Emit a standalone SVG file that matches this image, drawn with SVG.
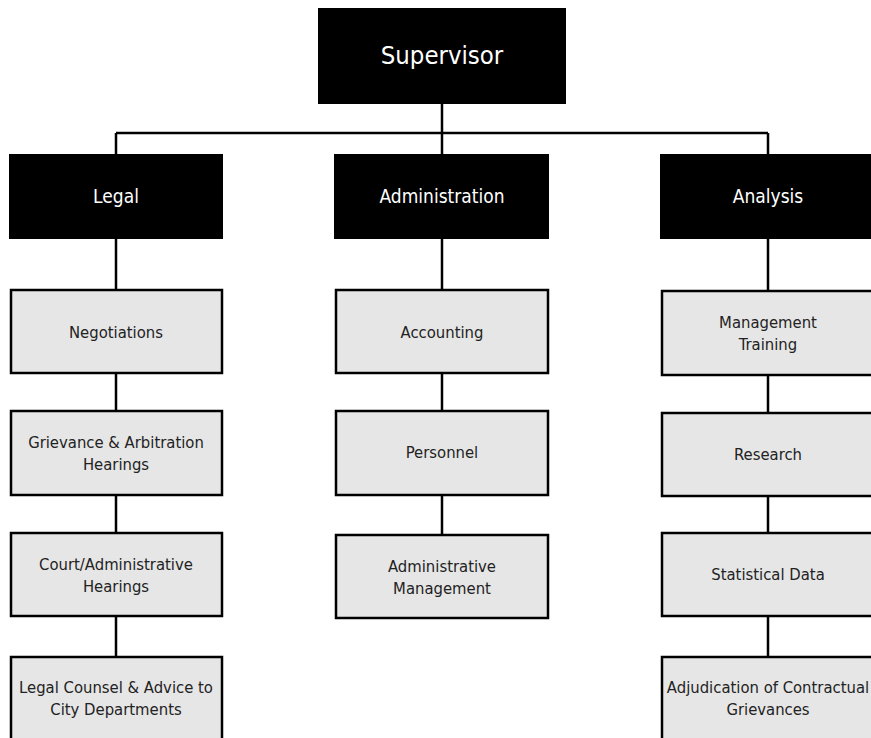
<svg xmlns="http://www.w3.org/2000/svg" width="871" height="738" viewBox="0 0 871 738">
<style>
.blk{fill:#000;stroke:#000;stroke-width:2}
.gry{fill:#e6e6e6;stroke:#000;stroke-width:2.5}
.tw{fill:#fff;font-family:"Liberation Sans Narrow","DejaVu Sans Condensed","Liberation Sans",sans-serif;text-anchor:middle}
.tg{fill:#222;font-family:"Liberation Sans Narrow","DejaVu Sans Condensed","Liberation Sans",sans-serif;font-size:16.5px;text-anchor:middle}
.ln{stroke:#000;stroke-width:2.5;fill:none}
</style>
<rect width="871" height="738" fill="#fff"/>
<g id="connectors">
<path class="ln" d="M442 103V133M116 133H768M116 133V155M442 133V155M768 133V155"/>
<path class="ln" d="M116 238V290M116 373V411M116 495V533M116 616V657"/>
<path class="ln" d="M442 238V290M442 373V411M442 495V535"/>
<path class="ln" d="M768 238V291M768 375V413M768 496V533M768 616V657"/>
</g>
<g id="supervisor"><rect class="blk" x="319" y="9" width="246" height="94"/><text class="tw" x="442" y="64" font-size="25.5">Supervisor</text></g>
<g id="legal"><rect class="blk" x="10" y="155" width="212" height="83"/><text class="tw" x="116" y="203" font-size="19">Legal</text></g>
<g id="administration"><rect class="blk" x="335" y="155" width="213" height="83"/><text class="tw" x="442" y="203" font-size="19">Administration</text></g>
<g id="analysis"><rect class="blk" x="661" y="155" width="220" height="83"/><text class="tw" x="768" y="203" font-size="19">Analysis</text></g>
<g id="negotiations"><rect class="gry" x="11" y="290" width="211" height="83"/><text class="tg" x="116" y="338">Negotiations</text></g>
<g id="grievance"><rect class="gry" x="11" y="411" width="211" height="84"/><text class="tg" x="116" y="448">Grievance &amp; Arbitration</text><text class="tg" x="116" y="470">Hearings</text></g>
<g id="court"><rect class="gry" x="11" y="533" width="211" height="83"/><text class="tg" x="116" y="570">Court/Administrative</text><text class="tg" x="116" y="592">Hearings</text></g>
<g id="counsel"><rect class="gry" x="11" y="657" width="211" height="100"/><text class="tg" x="116" y="693">Legal Counsel &amp; Advice to</text><text class="tg" x="116" y="715">City Departments</text></g>
<g id="accounting"><rect class="gry" x="336" y="290" width="212" height="83"/><text class="tg" x="442" y="338">Accounting</text></g>
<g id="personnel"><rect class="gry" x="336" y="411" width="212" height="84"/><text class="tg" x="442" y="458">Personnel</text></g>
<g id="adminmgmt"><rect class="gry" x="336" y="535" width="212" height="83"/><text class="tg" x="442" y="572">Administrative</text><text class="tg" x="442" y="594">Management</text></g>
<g id="mgmttraining"><rect class="gry" x="662" y="291" width="220" height="84"/><text class="tg" x="768" y="328">Management</text><text class="tg" x="768" y="350">Training</text></g>
<g id="research"><rect class="gry" x="662" y="413" width="220" height="83"/><text class="tg" x="768" y="460">Research</text></g>
<g id="statistical"><rect class="gry" x="662" y="533" width="220" height="83"/><text class="tg" x="768" y="580">Statistical Data</text></g>
<g id="adjudication"><rect class="gry" x="662" y="657" width="220" height="100"/><text class="tg" x="768" y="693">Adjudication of Contractual</text><text class="tg" x="768" y="715">Grievances</text></g>
</svg>
